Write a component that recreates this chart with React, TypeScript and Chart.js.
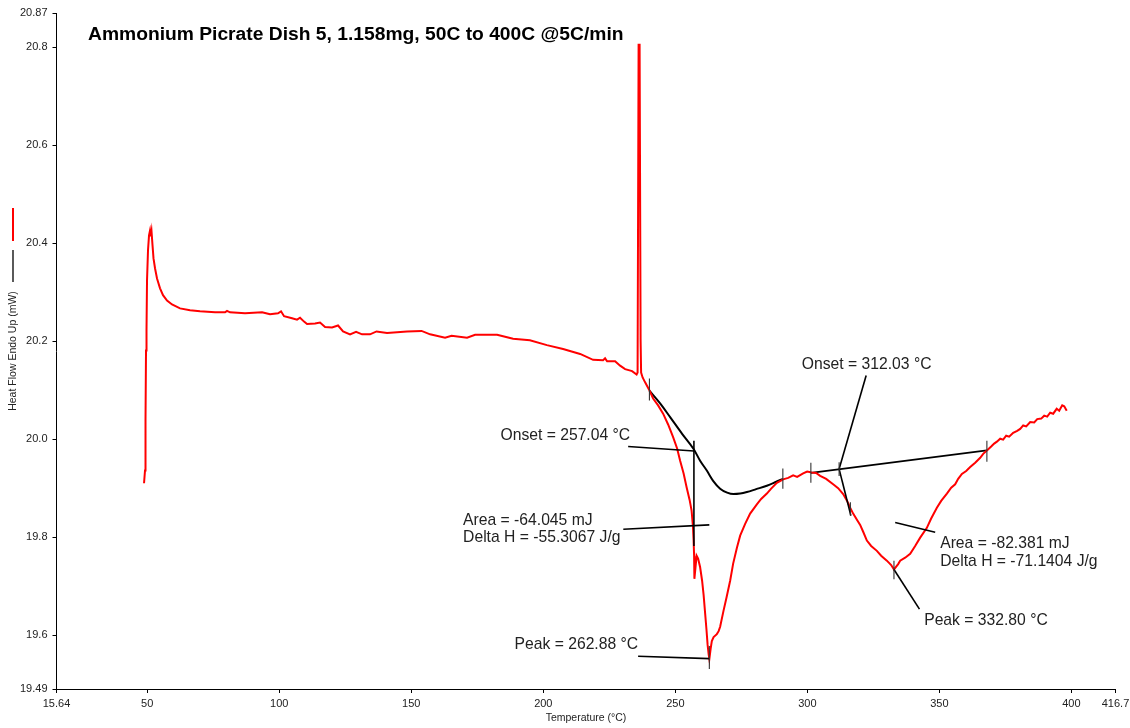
import React, { useEffect, useRef } from "react";
import { Chart, registerables } from "chart.js";

Chart.register(...registerables);

const FONT = "'Liberation Sans', Arial, Helvetica, sans-serif";

const chartTitle = "Ammonium Picrate Dish 5, 1.158mg, 50C to 400C @5C/min";
const xAxisTitle = "Temperature (°C)";
const yAxisTitle = "Heat Flow Endo Up (mW)";

const xTickValues = [15.64, 50, 100, 150, 200, 250, 300, 350, 400, 416.7];
const xTickLabels = ["15.64", "50", "100", "150", "200", "250", "300", "350", "400", "416.7"];
const yTickValues = [19.49, 19.6, 19.8, 20.0, 20.2, 20.4, 20.6, 20.8, 20.87];
const yTickLabels = ["19.49", "19.6", "19.8", "20.0", "20.2", "20.4", "20.6", "20.8", "20.87"];

// DSC trace: sample temperature (°C)
const temperature = [
  48.79, 49.16, 49.35, 49.54, 49.73, 49.92, 50.3, 50.68, 51.06, 51.36, 51.63, 52.0, 52.38, 52.95,
  53.71, 54.85, 55.98, 57.5, 59.39, 62.42, 66.21, 70.0, 75.68, 79.47, 80.23, 81.36, 87.04, 93.48,
  96.51, 99.54, 100.68, 101.82, 104.85, 106.74, 107.88, 109.39, 110.53, 113.56, 115.45, 117.35,
  119.99, 122.27, 124.16, 126.81, 129.09, 131.36, 134.39, 136.85, 140.83, 148.41, 153.9, 157.12,
  162.8, 165.26, 171.13, 174.17, 182.5, 188.56, 194.92, 201.36, 207.5, 213.94, 218.86, 222.64,
  223.4, 224.16, 227.19, 229.09, 230.98, 233.63, 235.34, 235.71, 236.09, 236.47, 236.85, 237.04,
  237.61, 238.56, 240.07, 241.59, 243.48, 245.38, 247.27, 249.16, 250.68, 251.82, 253.14, 254.27,
  255.41, 256.16, 256.66, 256.92, 257.11, 257.22, 258.06, 258.63, 259.38, 260.14, 260.71, 261.28,
  261.77, 262.23, 262.61, 262.88, 263.37, 263.82, 264.5, 265.72, 266.4, 266.97, 268.22, 269.43,
  270.76, 271.9, 273.3, 274.55, 276.44, 278.33, 280.87, 282.5, 284.66, 286.29, 288.45, 290.83,
  292.73, 294.62, 296.14, 298.41, 299.92, 301.63, 303.33, 304.85, 307.12, 309.77, 311.66, 313.56,
  315.07, 316.21, 317.35, 318.48, 320.0, 321.14, 322.54, 324.17, 326.33, 327.95, 330.11, 331.74,
  332.8, 334.39, 335.15, 337.04, 338.94, 340.83, 342.73, 345.26, 346.89, 349.05, 350.68, 352.84,
  354.47, 355.98, 357.12, 358.52, 360.15, 361.67, 363.56, 365.45, 366.59, 367.99, 369.62, 370.75,
  371.78, 373.03, 374.16, 375.3, 376.43, 377.95, 379.46, 380.6, 381.74, 382.88, 384.39, 385.91,
  387.05, 388.56, 389.7, 390.83, 391.97, 393.1, 394.43, 395.38, 396.52, 397.28, 398.23,
];

// DSC trace: heat flow (mW), endotherm up
const heatFlow = [
  19.91, 19.936, 20.038, 20.181, 20.222, 20.324, 20.386, 20.416, 20.426, 20.414, 20.424, 20.396,
  20.369, 20.349, 20.328, 20.308, 20.294, 20.283, 20.275, 20.267, 20.263, 20.261, 20.259, 20.259,
  20.262, 20.259, 20.257, 20.259, 20.255, 20.257, 20.261, 20.251, 20.247, 20.244, 20.248, 20.24,
  20.235, 20.236, 20.238, 20.229, 20.228, 20.232, 20.22, 20.214, 20.219, 20.214, 20.214, 20.22,
  20.217, 20.22, 20.221, 20.214, 20.207, 20.211, 20.207, 20.213, 20.213, 20.205, 20.202, 20.192,
  20.184, 20.174, 20.162, 20.161, 20.165, 20.159, 20.159, 20.15, 20.143, 20.139, 20.132, 20.136,
  20.805, 20.805, 20.202, 20.136, 20.126, 20.116, 20.101, 20.083, 20.069, 20.052, 20.03, 20.004,
  19.981, 19.956, 19.93, 19.902, 19.876, 19.854, 19.823, 19.793, 19.762, 19.715, 19.762, 19.756,
  19.739, 19.711, 19.682, 19.645, 19.613, 19.58, 19.561, 19.551, 19.572, 19.588, 19.596, 19.602,
  19.608, 19.617, 19.649, 19.678, 19.711, 19.746, 19.778, 19.803, 19.827, 19.848, 19.867, 19.878,
  19.889, 19.899, 19.911, 19.918, 19.921, 19.926, 19.923, 19.93, 19.934, 19.932, 19.931, 19.925,
  19.919, 19.908, 19.9, 19.888, 19.874, 19.86, 19.848, 19.838, 19.825, 19.811, 19.793, 19.782,
  19.772, 19.762, 19.752, 19.743, 19.734, 19.745, 19.752, 19.758, 19.766, 19.782, 19.799, 19.819,
  19.838, 19.86, 19.874, 19.889, 19.901, 19.908, 19.919, 19.929, 19.935, 19.943, 19.952, 19.962,
  19.97, 19.977, 19.985, 19.991, 19.995, 20.001, 19.999, 20.007, 20.005, 20.013, 20.017, 20.021,
  20.028, 20.026, 20.035, 20.034, 20.041, 20.042, 20.048, 20.046, 20.054, 20.052, 20.062, 20.058,
  20.069, 20.067, 20.058,
];

// Sigmoidal integration baseline under the first exotherm
const baseline1Temp = [
  240.19, 244.24, 248.03, 252.57, 256.92, 259.38, 261.92, 264.31, 266.97, 269.62, 272.0, 274.55,
  277.09, 280.61, 284.66, 287.8, 290.72,
];
const baseline1Flow = [
  20.099, 20.073, 20.045, 20.011, 19.98, 19.956, 19.936, 19.915, 19.899, 19.891, 19.888, 19.889,
  19.892, 19.898, 19.905, 19.912, 19.919,
];

// Linear integration baseline under the second exotherm
const baseline2Temp = [301.33, 367.99];
const baseline2Flow = [19.931, 19.977];

// Analysis results
const onset1 = 257.04;
const peak1 = 262.88;
const onset2 = 312.03;
const peak2 = 332.8;

// Leader and tangent segments: [t1, h1, t2, h2]
const leaderLines = [
  [232.13, 19.985, onset1, 19.976],
  [onset1, 19.997, onset1, 19.782],
  [230.3, 19.816, peak1, 19.825],
  [235.9, 19.557, peak1, 19.552],
  [322.27, 20.13, onset2, 19.939],
  [onset2, 19.939, 316.48, 19.844],
  [333.26, 19.83, 348.41, 19.81],
  [peak2, 19.734, 342.46, 19.653],
];

// Small vertical markers: [t, hTop, hBottom]
const markers = [
  [240.19, 20.124, 20.079],
  [290.72, 19.94, 19.899],
  [301.33, 19.952, 19.911],
  [367.99, 19.997, 19.954],
  [onset2, 19.953, 19.925],
  [316.3, 19.871, 19.844],
  [peak2, 19.752, 19.714],
  [peak1, 19.578, 19.531],
];

// Result labels: [text, t, h, align]
const resultLabels: [string, number, number, CanvasTextAlign][] = [
  ["Onset = 257.04 °C", 232.88, 20.007, "right"],
  ["Area = -64.045 mJ", 169.62, 19.833, "left"],
  ["Delta H = -55.3067 J/g", 169.62, 19.798, "left"],
  ["Peak = 262.88 °C", 235.91, 19.58, "right"],
  ["Onset = 312.03 °C", 297.91, 20.152, "left"],
  ["Area = -82.381 mJ", 350.3, 19.786, "left"],
  ["Delta H = -71.1404 J/g", 350.3, 19.75, "left"],
  ["Peak = 332.80 °C", 344.24, 19.63, "left"],
];

const toPoints = (xs: number[], ys: number[]) => xs.map((x, i) => ({ x, y: ys[i] }));

const annotationPlugin = {
  id: "dscAnnotations",
  afterDatasetsDraw(chart: any) {
    const { ctx, chartArea } = chart;
    const xs = chart.scales.x;
    const ys = chart.scales.y;
    const px = (t: number) => xs.getPixelForValue(t);
    const py = (h: number) => ys.getPixelForValue(h);
    ctx.save();

    ctx.strokeStyle = "#000";
    ctx.lineWidth = 1.6;
    ctx.lineCap = "butt";
    for (const [t1, h1, t2, h2] of leaderLines) {
      ctx.beginPath();
      ctx.moveTo(px(t1), py(h1));
      ctx.lineTo(px(t2), py(h2));
      ctx.stroke();
    }

    ctx.strokeStyle = "#333";
    ctx.lineWidth = 1.1;
    for (const [t, hTop, hBottom] of markers) {
      ctx.beginPath();
      ctx.moveTo(px(t), py(hTop));
      ctx.lineTo(px(t), py(hBottom));
      ctx.stroke();
    }

    ctx.fillStyle = "#222";
    ctx.font = `15.7px ${FONT}`;
    ctx.textBaseline = "middle";
    for (const [text, t, h, align] of resultLabels) {
      ctx.textAlign = align;
      ctx.fillText(text, px(t), py(h));
    }

    // Chart heading
    ctx.fillStyle = "#000";
    ctx.font = `bold 19.25px ${FONT}`;
    ctx.textAlign = "left";
    ctx.fillText(chartTitle, chartArea.left + 31.5, chartArea.top + 22);

    // Series keys beside the y-axis title
    const cy = (chartArea.top + chartArea.bottom) / 2;
    ctx.lineWidth = 2;
    ctx.strokeStyle = "#ff0000";
    ctx.beginPath();
    ctx.moveTo(13, cy - 143);
    ctx.lineTo(13, cy - 110);
    ctx.stroke();
    ctx.lineWidth = 1.3;
    ctx.strokeStyle = "#000";
    ctx.beginPath();
    ctx.moveTo(13, cy - 101);
    ctx.lineTo(13, cy - 69);
    ctx.stroke();

    ctx.restore();
  },
};

export default function App() {
  const canvasRef = useRef<HTMLCanvasElement | null>(null);

  useEffect(() => {
    if (!canvasRef.current) return;
    const axisTicks = { autoSkip: false, maxRotation: 0, color: "#222", font: { family: FONT, size: 11 } };
    const axisGrid = {
      display: true,
      drawOnChartArea: false,
      drawTicks: true,
      tickLength: 4,
      tickColor: "#000",
      tickWidth: 1,
    };
    const chart = new Chart(canvasRef.current, {
      type: "scatter",
      data: {
        datasets: [
          {
            data: toPoints(temperature, heatFlow),
            borderColor: "#ff0000",
            borderWidth: 2,
            showLine: true,
            pointRadius: 0,
            tension: 0,
          },
          {
            data: toPoints(baseline1Temp, baseline1Flow),
            borderColor: "#000",
            borderWidth: 2,
            showLine: true,
            pointRadius: 0,
            cubicInterpolationMode: "monotone",
          },
          {
            data: toPoints(baseline2Temp, baseline2Flow),
            borderColor: "#000",
            borderWidth: 1.8,
            showLine: true,
            pointRadius: 0,
          },
        ],
      },
      options: {
        animation: false,
        responsive: false,
        layout: { padding: { left: 0, top: 13, right: 14.5, bottom: 0 } },
        plugins: {
          legend: { display: false },
          tooltip: { enabled: false },
          title: { display: false },
        },
        scales: {
          x: {
            type: "linear",
            min: 15.64,
            max: 416.7,
            afterBuildTicks: (s: any) => {
              s.ticks = xTickValues.map((value) => ({ value }));
            },
            afterFit: (s: any) => {
              s.height = 39;
              s.paddingLeft = 0;
              s.paddingRight = 0;
            },
            ticks: { ...axisTicks, padding: 4, callback: (_v: any, i: number) => xTickLabels[i] },
            grid: axisGrid,
            border: { display: true, color: "#000", width: 1 },
            title: {
              display: true,
              text: xAxisTitle,
              color: "#222",
              font: { family: FONT, size: 10.5 },
              padding: { top: 0, bottom: 4 },
            },
          },
          y: {
            type: "linear",
            min: 19.49,
            max: 20.87,
            afterBuildTicks: (s: any) => {
              s.ticks = yTickValues.map((value) => ({ value }));
            },
            afterFit: (s: any) => {
              s.width = 56.5;
              s.paddingTop = 0;
              s.paddingBottom = 0;
            },
            ticks: { ...axisTicks, padding: 5, callback: (_v: any, i: number) => yTickLabels[i] },
            grid: axisGrid,
            border: { display: true, color: "#000", width: 1 },
            title: {
              display: true,
              text: yAxisTitle,
              color: "#222",
              font: { family: FONT, size: 10.5 },
              padding: { top: 7, bottom: 0 },
            },
          },
        },
      },
      plugins: [annotationPlugin],
    } as any);
    return () => chart.destroy();
  }, []);

  return (
    <div
      style={{
        position: "fixed",
        left: 0,
        top: 0,
        width: 1130,
        height: 728,
        background: "#fff",
        overflow: "hidden",
      }}
    >
      <canvas ref={canvasRef} width={1130} height={728} style={{ display: "block" }} />
    </div>
  );
}
